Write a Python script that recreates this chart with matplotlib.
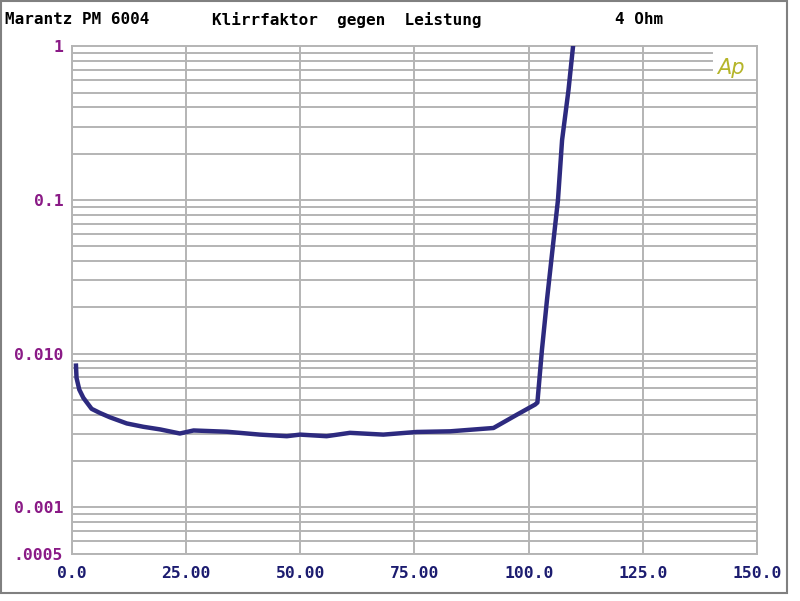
import numpy as np
import matplotlib
matplotlib.use("Agg")
import matplotlib.pyplot as plt
from matplotlib.patches import Rectangle

# Leistung (W) vs Klirrfaktor (THD)
power = [0.98, 1.1, 1.7, 2.6, 4.4, 6.2, 8.4, 12.1, 15.7, 19.4, 23.7, 26.7, 34.0,
         41.2, 47.1, 50.0, 55.8, 60.9, 68.2, 75.5, 82.8, 92.3, 97.4, 101.4,
         101.9, 102.9, 104.0, 105.2, 106.4, 107.3, 108.7, 109.7]
thd = [0.00835, 0.00695, 0.00583, 0.00515, 0.00437, 0.00411, 0.00385, 0.00351,
       0.00334, 0.00321, 0.00302, 0.00316, 0.0031, 0.00297, 0.0029, 0.00297,
       0.0029, 0.00305, 0.00297, 0.00309, 0.00312, 0.00328, 0.0040, 0.00466,
       0.0048, 0.0106, 0.0224, 0.0474, 0.1, 0.245, 0.518, 1.0]

xticks = [0, 25, 50, 75, 100, 125, 150]
xlabels = ["0.0", "25.00", "50.00", "75.00", "100.0", "125.0", "150.0"]
yticks = [0.0005, 0.001, 0.01, 0.1, 1]
ylabels = [".0005", "0.001", "0.010", "0.1", "1"]

fig = plt.figure(figsize=(8, 6.01), dpi=100)
ax = fig.add_axes([71.5/800, 1 - 553.5/601, (757.3-71.5)/800, (553.5-46.3)/601])

ax.set_yscale("log")
ax.set_xlim(0, 150)
ax.set_ylim(0.0005, 1)

grid_c = "#b4b4b4"
# horizontal grid at every log step
for dec in [0.0001, 0.001, 0.01, 0.1]:
    for m in range(1, 10):
        v = m * dec
        if v < 0.0005 or v > 1:
            continue
        xmax = (711.7 - 71.5) / (757.3 - 71.5) if v > 0.65 and v < 1 else 1
        ax.axhline(v, xmax=xmax, color=grid_c, lw=1.4, zorder=1)
for xt in xticks:
    ax.axvline(xt, color=grid_c, lw=1.4, zorder=1)

ax.plot(power, thd, color="#2d2a7f", lw=3.2, zorder=3)

ax.set_xticks(xticks)
ax.set_xticklabels(xlabels)
ax.set_yticks(yticks)
ax.set_yticklabels(ylabels)
ax.yaxis.set_minor_locator(matplotlib.ticker.NullLocator())
ax.tick_params(length=0, labelsize=11.8)
ax.tick_params(axis="x", pad=9, labelcolor="#1c1c70")
ax.tick_params(axis="y", pad=6, labelcolor="#8a1a86")
for lab in ax.get_xticklabels() + ax.get_yticklabels():
    lab.set_family("DejaVu Sans Mono")
    lab.set_fontweight("semibold")
for sp in ax.spines.values():
    sp.set_color(grid_c)
    sp.set_linewidth(1.4)

ax.text(0.962, 0.958, "Ap", transform=ax.transAxes, color="#b5b52a",
        fontsize=15, style="italic", ha="center", va="center", family="DejaVu Sans")

tf = dict(family="DejaVu Sans Mono", fontsize=11.5, fontweight="bold", color="black", va="center")
fig.text(5/800, 1 - 20/601, "Marantz PM 6004", **tf)
fig.text(212/800, 1 - 20/601, "Klirrfaktor  gegen  Leistung", **tf)
fig.text(615/800, 1 - 20/601, "4 Ohm", **tf)

fig.patches.append(Rectangle((1/800, 1 - 592.7/601), 786/800, 591.5/601,
                             transform=fig.transFigure, fill=False,
                             edgecolor="#808080", lw=1.5))

fig.savefig("out.png", dpi=100)
